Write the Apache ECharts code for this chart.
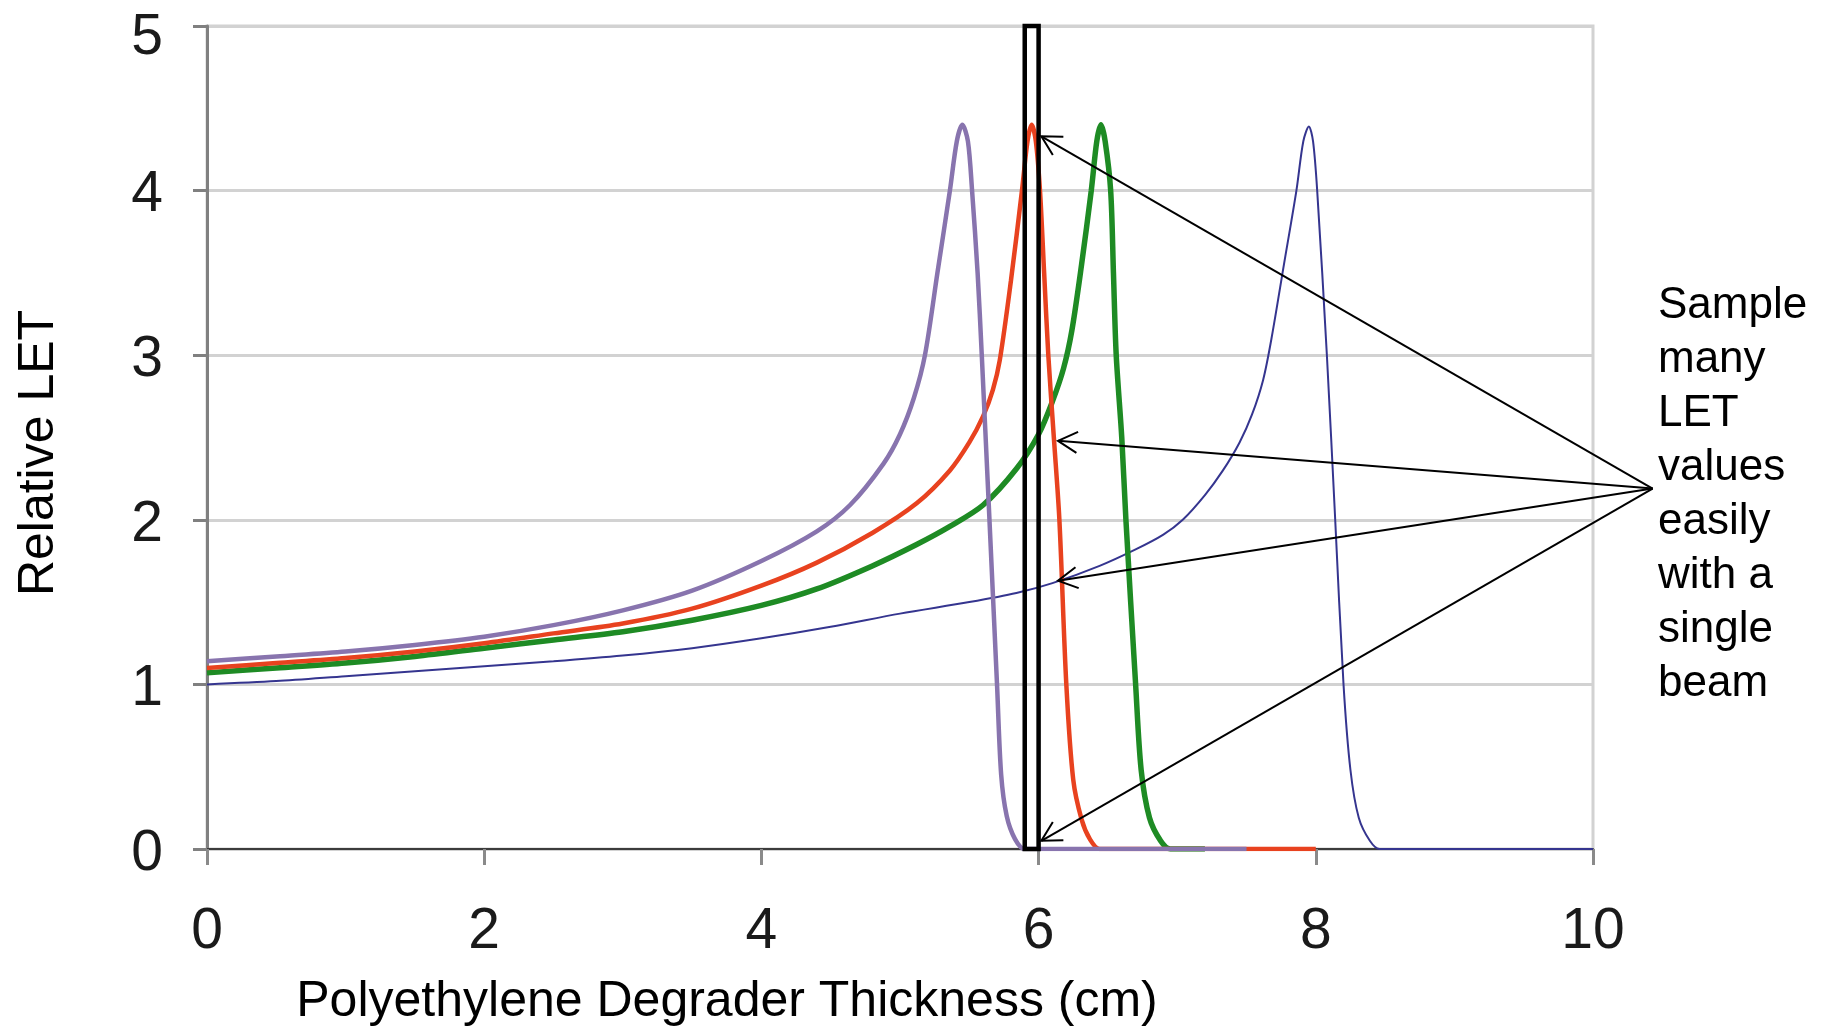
<!DOCTYPE html>
<html>
<head>
<meta charset="utf-8">
<script src="https://cdn.jsdelivr.net/npm/echarts@6/dist/echarts.min.js"></script>
<style>
  html, body { margin: 0; padding: 0; background: #ffffff; }
  #chart { width: 1834px; height: 1028px; }
</style>
</head>
<body>
<div id="chart"></div>
<script>
// ---------- data ----------
const xTicks = [0, 2, 4, 6, 8, 10];
const yTicks = [0, 1, 2, 3, 4, 5];

const blueLET = [
  [0, 1.00], [0.5, 1.02], [1, 1.05], [1.5, 1.08], [2, 1.11], [2.5, 1.14], [3, 1.175],
  [3.5, 1.22], [4, 1.28], [4.5, 1.35], [5, 1.43], [5.5, 1.50], [5.84, 1.555], [6.1, 1.615],
  [6.44, 1.72], [6.7, 1.82], [6.9, 1.91], [7.04, 2.0], [7.2, 2.15], [7.33, 2.30],
  [7.45, 2.47], [7.54, 2.64], [7.62, 2.85], [7.68, 3.1], [7.77, 3.55], [7.86, 4.0],
  [7.91, 4.3], [7.95, 4.39], [7.98, 4.3], [8.01, 4.0], [8.08, 3.0], [8.14, 2.0],
  [8.20, 1.0], [8.25, 0.48], [8.31, 0.19], [8.39, 0.05], [8.46, 0], [8.8, 0], [10, 0]
];
const greenLET = [
  [0, 1.07], [0.5, 1.10], [1, 1.13], [1.5, 1.17], [2, 1.22], [2.5, 1.27], [3, 1.32],
  [3.5, 1.39], [4, 1.48], [4.4, 1.58], [4.8, 1.72], [5.12, 1.85], [5.36, 1.96],
  [5.6, 2.09], [5.84, 2.31], [6.0, 2.52], [6.1, 2.72], [6.18, 2.92], [6.24, 3.15],
  [6.31, 3.55], [6.38, 4.0], [6.42, 4.3], [6.45, 4.40], [6.48, 4.3], [6.52, 4.0],
  [6.54, 3.5], [6.56, 3.0], [6.60, 2.5], [6.63, 2.0], [6.70, 1.0], [6.74, 0.48],
  [6.80, 0.19], [6.88, 0.05], [6.95, 0], [7.2, 0]
];
const redLET = [
  [0, 1.10], [0.5, 1.13], [1, 1.16], [1.5, 1.20], [2, 1.25], [2.5, 1.31], [3, 1.37],
  [3.5, 1.46], [4, 1.60], [4.4, 1.74], [4.8, 1.92], [5.12, 2.10], [5.36, 2.30],
  [5.5, 2.47], [5.6, 2.63], [5.67, 2.79], [5.72, 2.97], [5.80, 3.45], [5.88, 4.0],
  [5.92, 4.3], [5.95, 4.40], [5.98, 4.3], [6.01, 4.0], [6.04, 3.5], [6.07, 3.0],
  [6.11, 2.5], [6.15, 2.0], [6.20, 1.0], [6.25, 0.42], [6.31, 0.18], [6.37, 0.06],
  [6.44, 0], [6.8, 0], [8.0, 0]
];
const purpleLET = [
  [0, 1.14], [0.5, 1.17], [1, 1.20], [1.5, 1.24], [2, 1.29], [2.5, 1.36], [3, 1.45],
  [3.5, 1.57], [4, 1.75], [4.4, 1.93], [4.64, 2.09], [4.88, 2.34], [5.0, 2.52],
  [5.1, 2.74], [5.18, 3.0], [5.27, 3.5], [5.36, 4.0], [5.41, 4.3], [5.45, 4.40],
  [5.49, 4.3], [5.52, 4.0], [5.56, 3.5], [5.59, 3.0], [5.64, 2.1], [5.70, 1.0],
  [5.73, 0.45], [5.77, 0.2], [5.83, 0.06], [5.90, 0], [6.2, 0], [7.5, 0]
];

// sampling window (black box): [xStart, xEnd, yBottom, yTop]
const sampleBox = [[5.9, 6.0, 0, 5]];
// annotation arrows: tail point (shared) and heads
const arrowTail = [10.43, 2.19];
const arrowHeads = [[6.02, 4.33], [6.14, 2.48], [6.14, 1.63], [6.02, 0.05]];
const noteLines = ['Sample', 'many', 'LET', 'values', 'easily', 'with a', 'single', 'beam'];

const xTitle = 'Polyethylene Degrader Thickness (cm)';
const yTitle = 'Relative LET';

// ---------- chart ----------
const narrow = '"Liberation Sans Narrow", "Arial Narrow", "Liberation Sans", sans-serif';
const sans = '"Liberation Sans", Arial, Helvetica, sans-serif';

const chart = echarts.init(document.getElementById('chart'), null, { renderer: 'canvas' });

function lineSeries(name, data, color, width) {
  return {
    name, type: 'line', data, showSymbol: false, symbol: 'none',
    smooth: 0.3,
    lineStyle: { color, width }, itemStyle: { color },
    silent: true, animation: false
  };
}

const tickFont = { fontFamily: narrow, fontSize: 57, color: '#1a1a1a' };

chart.setOption({
  animation: false,
  backgroundColor: '#ffffff',
  grid: {
    left: 207, right: 241, top: 26, bottom: 179,
    containLabel: false, outerBoundsMode: 'none',
    show: true, borderColor: '#d2d2d2', borderWidth: 3, backgroundColor: 'transparent'
  },
  xAxis: {
    type: 'value', min: xTicks[0], max: xTicks[xTicks.length - 1], interval: 2,
    name: xTitle, nameLocation: 'middle', nameGap: 128,
    nameTextStyle: { fontFamily: sans, fontSize: 50, color: '#000', padding: [0, 346, 0, 0] },
    axisLine: { show: true, onZero: false, lineStyle: { color: '#3c3c3c', width: 2 } },
    axisTick: { show: true, length: 16, lineStyle: { color: '#8a8a8a', width: 3 } },
    splitLine: { show: false },
    axisLabel: Object.assign({ margin: 55 }, tickFont)
  },
  yAxis: {
    type: 'value', min: yTicks[0], max: yTicks[yTicks.length - 1], interval: 1,
    name: yTitle, nameLocation: 'middle', nameGap: 143,
    nameTextStyle: { fontFamily: sans, fontSize: 50, color: '#000', padding: [0, 31, 0, 0] },
    axisLine: { show: true, onZero: false, lineStyle: { color: '#808080', width: 3 } },
    axisTick: { show: true, length: 14, lineStyle: { color: '#808080', width: 3 } },
    splitLine: { show: true, lineStyle: { color: '#d2d2d2', width: 3 } },
    axisLabel: {
      margin: 44,
      formatter: function (v) { return v === 5 ? '{t|' + v + '}' : '{a|' + v + '}'; },
      rich: {
        a: Object.assign({ padding: [10, 0, 0, 0] }, tickFont),
        t: Object.assign({ padding: [24, 0, 0, 0] }, tickFont)
      }
    }
  },
  series: [
    lineSeries('blue', blueLET, '#35358f', 2),
    lineSeries('green', greenLET, '#1e8b24', 5.5),
    lineSeries('red', redLET, '#e8421f', 4.5),
    lineSeries('purple', purpleLET, '#8874ae', 4.5),
    {
      type: 'custom', silent: true, clip: false, z: 5,
      data: sampleBox,
      renderItem: function (params, api) {
        const p0 = api.coord([api.value(0), api.value(3)]);
        const p1 = api.coord([api.value(1), api.value(2)]);
        return {
          type: 'rect',
          shape: { x: p0[0], y: p0[1], width: p1[0] - p0[0], height: p1[1] - p0[1] },
          style: { fill: 'none', stroke: '#000', lineWidth: 4.5 }
        };
      }
    },
    {
      type: 'custom', silent: true, clip: false, z: 6,
      data: arrowHeads,
      renderItem: function (params, api) {
        const tip = api.coord([api.value(0), api.value(1)]);
        const tail = api.coord(arrowTail);
        const dx = tail[0] - tip[0], dy = tail[1] - tip[1];
        const ang = Math.atan2(dy, dx);
        const L = 22, spread = 0.5;
        const a1 = [tip[0] + L * Math.cos(ang + spread), tip[1] + L * Math.sin(ang + spread)];
        const a2 = [tip[0] + L * Math.cos(ang - spread), tip[1] + L * Math.sin(ang - spread)];
        return {
          type: 'group',
          children: [
            { type: 'line', shape: { x1: tail[0], y1: tail[1], x2: tip[0], y2: tip[1] },
              style: { stroke: '#000', lineWidth: 2 } },
            { type: 'polyline', shape: { points: [a1, tip, a2] },
              style: { stroke: '#000', lineWidth: 2, fill: 'none' } }
          ]
        };
      }
    }
  ],
  graphic: [
    {
      type: 'text', left: 1658, top: 279, silent: true,
      style: {
        text: noteLines.join('\n'),
        font: '44px ' + sans, lineHeight: 54, fill: '#000'
      }
    }
  ]
});
</script>
</body>
</html>
